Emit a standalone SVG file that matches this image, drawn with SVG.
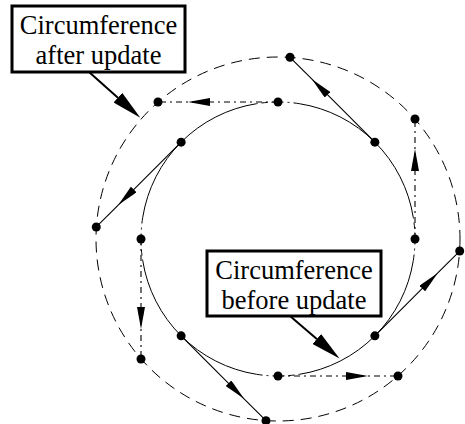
<svg xmlns="http://www.w3.org/2000/svg" width="465" height="424" viewBox="0 0 465 424">
<style>
  .solid { fill: none; stroke: #000; stroke-width: 1; }
  .dashdot { fill: none; stroke: #000; stroke-width: 1; stroke-dasharray: 6 4 2 4; }
  .outer { fill: none; stroke: #000; stroke-width: 1; stroke-dasharray: 11 7; }
  .tan { fill: none; stroke: #000; stroke-width: 1.1; marker-mid: url(#ah); }
  .tandd { fill: none; stroke: #000; stroke-width: 1.1; stroke-dasharray: 6 4 2 4; marker-mid: url(#ah); }
  .dot { fill: #000; }
  .box { fill: #fff; stroke: #000; stroke-width: 3; }
  .lbl { font-family: "Liberation Serif", "Times New Roman", serif; font-size: 26.5px; text-anchor: middle; fill: #000; }
  .pointer { fill: none; stroke: #000; stroke-width: 2; marker-end: url(#big); }
</style>
<defs>
  <marker id="ah" viewBox="0 0 22 8" refX="22" refY="4" markerWidth="22" markerHeight="8" markerUnits="userSpaceOnUse" orient="auto">
    <path d="M0,0 L22,4 L0,8 Z" fill="#000" stroke="none"/>
  </marker>
  <marker id="big" viewBox="0 0 30 13" refX="0" refY="6.5" markerWidth="30" markerHeight="13" markerUnits="userSpaceOnUse" orient="auto">
    <path d="M0,0 L30,6.5 L0,13 Z" fill="#000" stroke="none"/>
  </marker>
</defs>

<g id="outer-circle">
  <circle class="outer" cx="278" cy="239" r="182"/>
</g>

<g id="inner-circle">
  <path class="solid" d="M413.31,217.57 A137,137 0 0 0 299.43,103.69"/>
  <path class="solid" d="M256.57,103.69 A137,137 0 0 0 142.69,217.57"/>
  <path class="solid" d="M142.69,260.43 A137,137 0 0 0 256.57,374.31"/>
  <path class="solid" d="M299.43,374.31 A137,137 0 0 0 413.31,260.43"/>
  <path class="dashdot" d="M413.31,260.43 A137,137 0 0 0 413.31,217.57"/>
  <path class="dashdot" d="M299.43,103.69 A137,137 0 0 0 256.57,103.69"/>
  <path class="dashdot" d="M142.69,217.57 A137,137 0 0 0 142.69,260.43"/>
  <path class="dashdot" d="M256.57,374.31 A137,137 0 0 0 299.43,374.31"/>
</g>

<g id="connectors">
  <path class="tan" d="M374.87,142.13 L311.94,79.20 L290.02,57.28"/>
  <path class="tan" d="M181.13,142.13 L118.20,205.06 L96.28,226.98"/>
  <path class="tan" d="M181.13,335.87 L244.06,398.80 L265.98,420.72"/>
  <path class="tan" d="M374.87,335.87 L437.80,272.94 L459.72,251.02"/>
  <path class="tandd" d="M278,102 L188,102 L158,102"/>
  <path class="tandd" d="M415,239 L415,149 L415,119"/>
  <path class="tandd" d="M278,376 L368,376 L398,376"/>
  <path class="tandd" d="M141,239 L141,329 L141,359"/>
  <path class="pointer" d="M89,72 L117.9,97.7"/>
  <path class="pointer" d="M290,316 L316.8,339"/>
</g>

<g id="inner-points">
  <circle id="p0" class="dot" cx="415" cy="239" r="4.5"/>
  <circle id="p45" class="dot" cx="374.87" cy="142.13" r="4.5"/>
  <circle id="p90" class="dot" cx="278" cy="102" r="4.5"/>
  <circle id="p135" class="dot" cx="181.13" cy="142.13" r="4.5"/>
  <circle id="p180" class="dot" cx="141" cy="239" r="4.5"/>
  <circle id="p225" class="dot" cx="181.13" cy="335.87" r="4.5"/>
  <circle id="p270" class="dot" cx="278" cy="376" r="4.5"/>
  <circle id="p315" class="dot" cx="374.87" cy="335.87" r="4.5"/>
</g>
<g id="outer-points">
  <circle id="q0" class="dot" cx="415" cy="119" r="4.5"/>
  <circle id="q45" class="dot" cx="290.02" cy="57.28" r="4.5"/>
  <circle id="q90" class="dot" cx="158" cy="102" r="4.5"/>
  <circle id="q135" class="dot" cx="96.28" cy="226.98" r="4.5"/>
  <circle id="q180" class="dot" cx="141" cy="359" r="4.5"/>
  <circle id="q225" class="dot" cx="265.98" cy="420.72" r="4.5"/>
  <circle id="q270" class="dot" cx="398" cy="376" r="4.5"/>
  <circle id="q315" class="dot" cx="459.72" cy="251.02" r="4.5"/>
</g>

<g id="label-after">
  <rect class="box" x="12" y="6" width="173" height="66"/>
  <text class="lbl" x="98.5" y="34">Circumference</text>
  <text class="lbl" x="98.5" y="64">after update</text>
</g>
<g id="label-before">
  <rect class="box" x="207" y="251" width="174" height="65"/>
  <text class="lbl" x="294" y="279">Circumference</text>
  <text class="lbl" x="294" y="309">before update</text>
</g>
</svg>
